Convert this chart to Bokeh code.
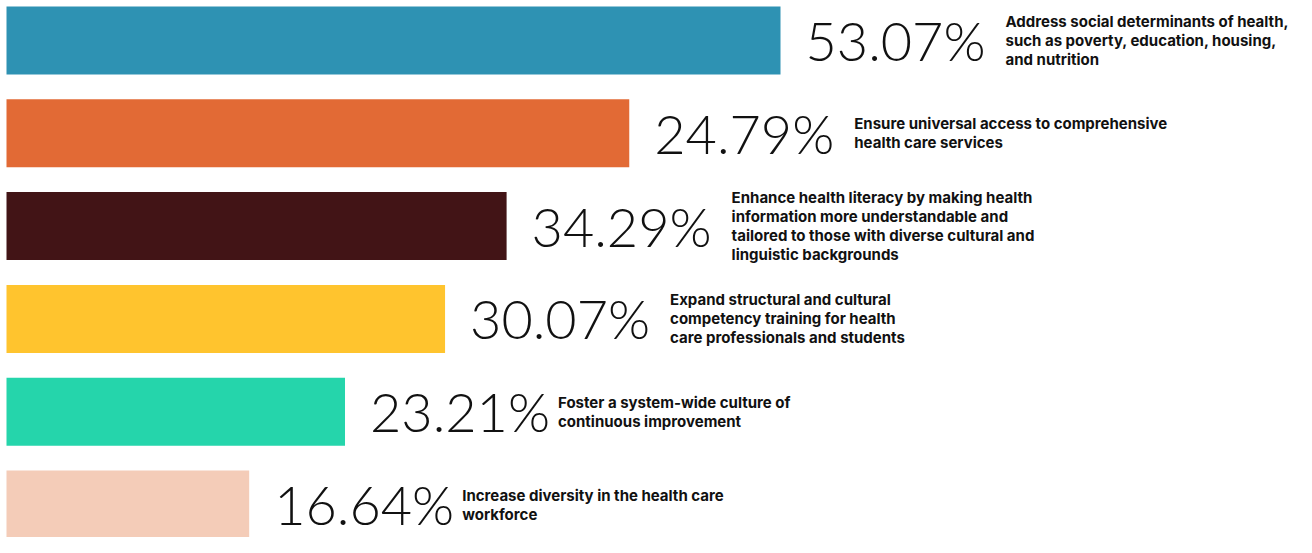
from bokeh.plotting import figure
from bokeh.models import ColumnDataSource, Range1d
from bokeh.core.properties import value
from bokeh.embed import file_html
from bokeh.resources import INLINE

categories = [
    "Address social determinants of health,\nsuch as poverty, education, housing,\nand nutrition",
    "Ensure universal access to comprehensive\nhealth care services",
    "Enhance health literacy by making health\ninformation more understandable and\ntailored to those with diverse cultural and\nlinguistic backgrounds",
    "Expand structural and cultural\ncompetency training for health\ncare professionals and students",
    "Foster a system-wide culture of\ncontinuous improvement",
    "Increase diversity in the health care\nworkforce",
]
bar_values = [53.07, 42.7, 34.29, 30.07, 23.21, 16.64]
pct_labels = ["53.07%", "24.79%", "34.29%", "30.07%", "23.21%", "16.64%"]
colors = ["#2E92B3", "#E26A35", "#421416", "#FFC42E", "#25D5AB", "#F4CCB8"]

pos = list(range(len(categories)))
# description offset (px) after the bar end; narrower "1" glyphs in the label shorten it
desc_off = [225 - 12 * s.count("1") for s in pct_labels]
src = ColumnDataSource(dict(
    y=pos, val=bar_values, zero=[0] * len(pos), pct=pct_labels,
    desc=categories, color=colors, doff=desc_off,
))

W, H = 1296, 537
px_per_unit = 774 / 53.07
x0 = -6 / px_per_unit
step = 92.8
top_c = 40
bot_c = top_c + 5 * step
p = figure(width=W, height=H, output_backend="svg", toolbar_location=None,
           x_range=Range1d(x0, x0 + W / px_per_unit),
           y_range=Range1d(5.0 + (H - bot_c) / step, -top_c / step),
           min_border=0, background_fill_color="white", border_fill_color="white")
p.axis.visible = False
p.grid.visible = False
p.outline_line_color = None

p.hbar(y="y", left="zero", right="val", height=68 / step, color="color", source=src, line_color=None)

p.text(x="val", y="y", text="pct", x_offset=25, source=src,
       text_font=value("Lato Light"), text_font_size="54px", text_color="#111111",
       text_align="left", text_baseline="middle")

p.text(x="val", y="y", text="desc", x_offset="doff", source=src,
       text_font=value("Inter"), text_font_style="bold", text_font_size="15px",
       text_color="#111111", text_align="left", text_baseline="middle",
       text_line_height=1.0)

open("out.html", "w").write(file_html(p, INLINE))
